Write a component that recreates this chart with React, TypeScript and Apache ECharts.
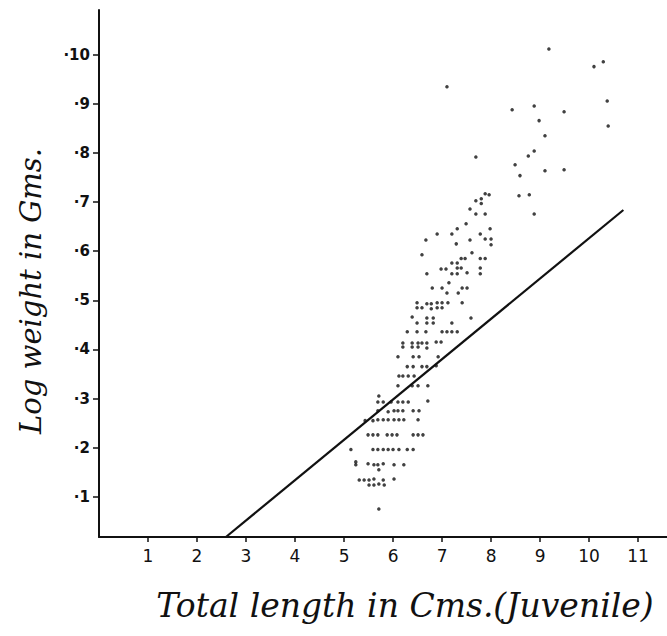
import React, { useEffect, useRef } from "react";
import * as echarts from "echarts";

// Total length (cm) vs log weight (g) of juvenile fish
const samples: [number, number][] = [
  // large individuals
  [9.18, 1.012], [10.10, 0.976], [10.29, 0.986], [7.10, 0.935], [8.43, 0.888],
  [8.88, 0.896], [9.49, 0.884], [10.37, 0.906], [8.98, 0.866], [10.39, 0.855],
  [9.10, 0.835], [8.88, 0.804], [8.76, 0.794], [7.69, 0.792], [8.49, 0.776],
  [8.59, 0.754], [9.10, 0.764], [9.49, 0.766], [8.57, 0.713], [8.78, 0.715],
  [8.88, 0.676],
  // 7-8 cm group
  [7.96, 0.715], [7.88, 0.717], [7.80, 0.707], [7.69, 0.703], [7.80, 0.697],
  [7.57, 0.686], [7.69, 0.676], [7.88, 0.676], [7.49, 0.656], [7.31, 0.646],
  [7.98, 0.646], [6.90, 0.635], [7.20, 0.635], [7.78, 0.635], [6.67, 0.623],
  [7.57, 0.623], [7.88, 0.625], [8.00, 0.625], [7.29, 0.615], [8.00, 0.613],
  [6.59, 0.593], [7.61, 0.597], [7.39, 0.585], [7.47, 0.585], [7.78, 0.585],
  [7.88, 0.585], [7.20, 0.576], [7.31, 0.576], [6.98, 0.564], [7.08, 0.564],
  [7.31, 0.566], [7.39, 0.566], [7.78, 0.566], [6.69, 0.554], [7.20, 0.554],
  [7.31, 0.554], [7.51, 0.556], [7.78, 0.554], [7.14, 0.536], [6.80, 0.525],
  [7.00, 0.525], [7.41, 0.525], [7.51, 0.525], [7.10, 0.515], [7.33, 0.515],
  // 6-7 cm group
  [6.49, 0.495], [6.69, 0.493], [6.78, 0.493], [6.90, 0.495], [7.00, 0.495],
  [7.12, 0.495], [7.41, 0.495], [6.49, 0.485], [6.59, 0.485], [6.78, 0.483],
  [6.90, 0.485], [7.00, 0.485], [6.39, 0.466], [7.59, 0.464], [6.69, 0.464],
  [6.82, 0.464], [6.49, 0.454], [6.69, 0.454], [6.82, 0.454], [7.20, 0.454],
  [6.29, 0.436], [6.49, 0.436], [6.67, 0.436], [7.00, 0.436], [7.10, 0.436],
  [7.20, 0.436], [7.31, 0.436], [6.20, 0.413], [6.39, 0.413], [6.51, 0.413],
  [6.59, 0.413], [6.69, 0.413], [6.88, 0.415], [6.98, 0.415], [6.20, 0.405],
  [6.39, 0.405], [6.51, 0.405], [6.69, 0.403], [6.10, 0.385], [6.41, 0.385],
  [6.53, 0.385], [6.92, 0.385], [6.29, 0.365], [6.41, 0.365], [6.59, 0.365],
  [6.69, 0.365], [6.88, 0.367], [6.12, 0.346], [6.20, 0.346], [6.31, 0.346],
  [6.43, 0.346], [6.10, 0.326], [6.39, 0.326], [6.51, 0.326], [6.71, 0.326],
  // 5-6 cm group
  [5.71, 0.305], [5.69, 0.293], [5.80, 0.293], [5.96, 0.293], [6.10, 0.293],
  [6.20, 0.293], [6.31, 0.293], [6.71, 0.295], [5.69, 0.275], [5.90, 0.273],
  [6.02, 0.275], [6.10, 0.275], [6.20, 0.275], [6.41, 0.275], [6.53, 0.275],
  [5.43, 0.255], [5.59, 0.255], [5.69, 0.257], [5.80, 0.257], [5.90, 0.257],
  [6.02, 0.257], [6.12, 0.257], [6.22, 0.257], [6.51, 0.257], [5.49, 0.226],
  [5.59, 0.226], [5.69, 0.226], [5.88, 0.226], [5.98, 0.226], [6.08, 0.226],
  [6.41, 0.226], [6.51, 0.226], [6.61, 0.226], [5.14, 0.196], [5.59, 0.196],
  [5.69, 0.196], [5.80, 0.196], [5.90, 0.196], [6.00, 0.196], [6.12, 0.196],
  [6.29, 0.196], [6.41, 0.196], [5.24, 0.171], [5.24, 0.165], [5.49, 0.167],
  [5.61, 0.165], [5.69, 0.165], [5.80, 0.167], [6.02, 0.165], [6.22, 0.165],
  [5.71, 0.155], [5.31, 0.134], [5.41, 0.134], [5.51, 0.134], [5.61, 0.136],
  [5.80, 0.134], [6.02, 0.136], [5.51, 0.124], [5.61, 0.124], [5.71, 0.126],
  [5.82, 0.124], [5.71, 0.075],
];

// straight reference line
const lineLength = [2.59, 10.7];
const lineLogWeight = [0.018, 0.684];

const xTickValues = [1, 2, 3, 4, 5, 6, 7, 8, 9, 10, 11];
const xTickLabels = ["1", "2", "3", "4", "5", "6", "7", "8", "9", "10", "11"];
const yTickValues = [0.1, 0.2, 0.3, 0.4, 0.5, 0.6, 0.7, 0.8, 0.9, 1.0];
const yTickLabels = ["·1", "·2", "·3", "·4", "·5", "·6", "·7", "·8", "·9", "·10"];

const xTitle = "Total length in Cms.(Juvenile)";
const yTitle = "Log weight in Gms.";

export default function App() {
  const ref = useRef<HTMLDivElement>(null);
  useEffect(() => {
    if (!ref.current) return;
    const chart = echarts.init(ref.current, null, { renderer: "svg" });
    const ink = "#111";
    chart.setOption({
      animation: false,
      backgroundColor: "#ffffff",
      grid: { left: 99, right: 0, top: 10, bottom: 99 },
      xAxis: {
        type: "value",
        min: 0,
        max: 11.59,
        axisLine: { show: true, onZero: false, lineStyle: { color: ink, width: 2 } },
        axisTick: { show: true, customValues: xTickValues, length: 5, lineStyle: { color: ink, width: 1.5 } },
        axisLabel: {
          customValues: xTickValues,
          formatter: (v: number) => xTickLabels[xTickValues.indexOf(Math.round(v))] ?? "",
          fontSize: 17,
          color: ink,
          margin: 10,
          fontFamily: "DejaVu Sans",
        },
        splitLine: { show: false },
      },
      yAxis: {
        type: "value",
        min: 0.018,
        max: 1.0913,
        axisLine: { show: true, onZero: false, lineStyle: { color: ink, width: 2 } },
        axisTick: { show: true, customValues: yTickValues, length: 6, lineStyle: { color: ink, width: 1.5 } },
        axisLabel: {
          customValues: yTickValues,
          formatter: (v: number) => yTickLabels[Math.round(v * 10) - 1] ?? "",
          fontSize: 15,
          fontWeight: "bold",
          color: ink,
          margin: 9,
          fontFamily: "DejaVu Sans",
        },
        splitLine: { show: false },
      },
      series: [
        {
          type: "scatter",
          data: samples,
          symbol: "circle",
          symbolSize: 3.5,
          itemStyle: { color: ink },
          z: 3,
        },
        {
          type: "line",
          data: lineLength.map((x, i) => [x, lineLogWeight[i]]),
          showSymbol: false,
          symbol: "none",
          lineStyle: { color: ink, width: 2.2 },
          z: 2,
        },
      ],
      graphic: [
        {
          type: "text",
          x: 31,
          y: 291,
          rotation: Math.PI / 2,
          style: {
            text: yTitle,
            font: 'italic 29px "DejaVu Serif"',
            fill: ink,
            align: "center",
            verticalAlign: "middle",
          },
        },
        {
          type: "text",
          x: 405,
          y: 605,
          style: {
            text: xTitle,
            font: 'italic 33px "DejaVu Serif"',
            fill: ink,
            align: "center",
            verticalAlign: "middle",
          },
        },
      ],
    });
    return () => chart.dispose();
  }, []);
  return (
    <div
      ref={ref}
      style={{ position: "absolute", left: 0, top: 0, width: 667, height: 636, background: "#fff" }}
    />
  );
}
